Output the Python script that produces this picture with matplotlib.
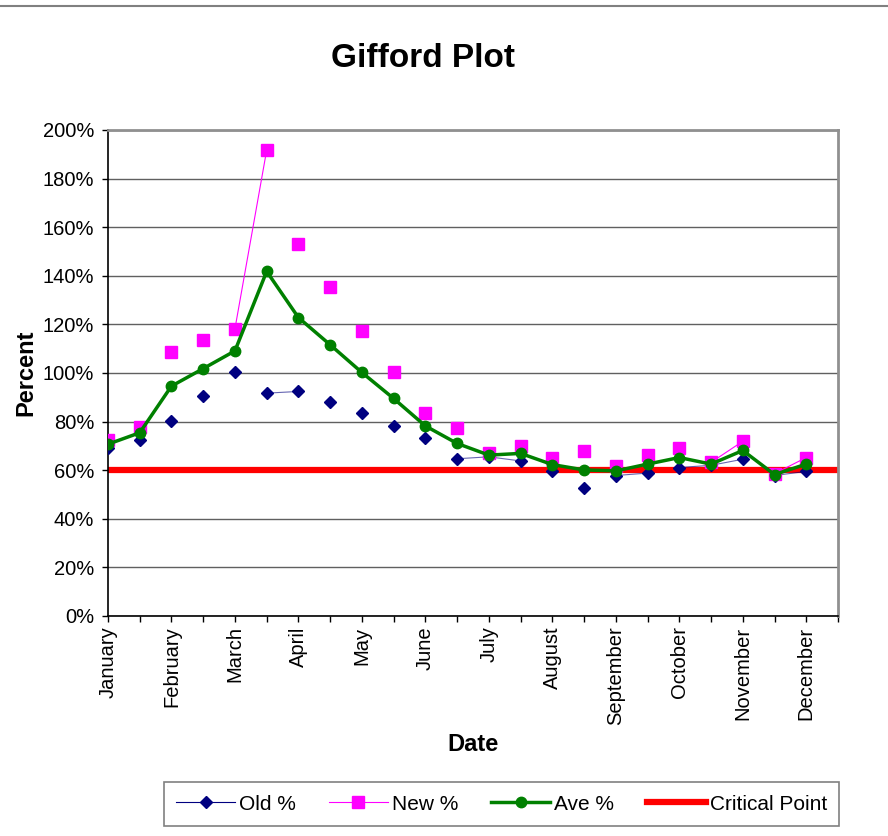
import matplotlib
matplotlib.use("Agg")
import matplotlib.pyplot as plt
from matplotlib.lines import Line2D
from matplotlib.ticker import FuncFormatter
import numpy as np

plt.rcParams['font.family'] = ['Liberation Sans', 'DejaVu Sans']

# half-month categories, month name on every other one
months = ['January', 'February', 'March', 'April', 'May', 'June', 'July',
          'August', 'September', 'October', 'November', 'December']
n_cat = 24

old_pct = [69.1, 72.5, 80.4, 90.5, 100.5, 91.7, 92.4, 88.0, 83.5, 78.2,
           73.2, 64.7, 65.5, 63.8, 59.5, 52.7, 57.8, 58.8, 61.1, 62.0,
           64.5, 57.8, 59.5]
new_pct = [72.3, 77.8, 108.8, 113.5, 118.2, 191.7, 153.0, 135.2, 117.2, 100.3,
           83.5, 77.4, 67.0, 70.0, 64.9, 67.7, 61.8, 66.2, 69.3, 63.2,
           71.9, 58.6, 65.2]
ave_pct = [70.7, 75.4, 94.6, 101.8, 109.1, 141.8, 122.8, 111.6, 100.2, 89.5,
           78.2, 71.0, 66.2, 66.9, 62.3, 60.1, 59.7, 62.5, 65.2, 62.5,
           68.1, 58.2, 62.5]
critical = 60

# only some neighbouring points of Old/New are joined in the original sheet
old_links = [(5, 6), (11, 12), (12, 13), (16, 17), (18, 19), (19, 20), (21, 22)]
new_links = [(4, 5), (19, 20), (21, 22)]


def linked(vals, links):
    xs, ys = [], []
    for a, b in links:
        xs += [a, b, np.nan]
        ys += [vals[a], vals[b], np.nan]
    return xs, ys


x = np.arange(len(ave_pct))

fig = plt.figure(figsize=(8.88, 8.36), dpi=100)
ax = fig.add_axes([0.1216, 0.2632, 0.8221, 0.5813])

ax.axhline(critical, color='#ff0000', lw=4.5, zorder=2)

ox, oy = linked(old_pct, old_links)
ax.plot(ox, oy, color='#000080', lw=0.8, alpha=0.6, zorder=3)
nx, ny = linked(new_pct, new_links)
ax.plot(nx, ny, color='#ff00ff', lw=0.8, zorder=3)

ax.plot(x, old_pct, ls='none', marker='D', ms=6, color='#000080', zorder=4)
ax.plot(x, new_pct, ls='none', marker='s', ms=8, color='#ff00ff', zorder=4)
ax.plot(x, ave_pct, color='#008000', lw=2.5, marker='o', ms=7.5, zorder=5)

ax.set_xlim(0, n_cat - 1)
ax.set_ylim(0, 200)
ax.set_yticks(np.arange(0, 201, 20))
ax.yaxis.set_major_formatter(FuncFormatter(lambda v, p: f'{v:.0f}%'))
ax.set_xticks(np.arange(n_cat))
ax.set_xticklabels([months[i // 2] if i % 2 == 0 else '' for i in range(n_cat)],
                   rotation=90)
ax.tick_params(axis='both', direction='out', length=4, width=1, labelsize=14.5)
ax.tick_params(axis='y', pad=6)

ax.grid(axis='y', color='#606060', lw=1)
ax.set_axisbelow(True)
for s in ['top', 'right']:
    ax.spines[s].set_color('#909090')
    ax.spines[s].set_linewidth(2)
ax.spines['left'].set_linewidth(1.2)
ax.spines['bottom'].set_linewidth(1.2)

fig.text(0.476, 0.930, 'Gifford Plot', fontsize=24, fontweight='bold',
         ha='center', va='center')
ax.set_ylabel('Percent', fontsize=17, fontweight='bold', labelpad=4)
ax.set_xlabel('Date', fontsize=17, fontweight='bold', labelpad=6)

handles = [
    Line2D([], [], color='#000080', lw=0.8, marker='D', ms=6),
    Line2D([], [], color='#ff00ff', lw=0.8, marker='s', ms=8),
    Line2D([], [], color='#008000', lw=2.5, marker='o', ms=7.5),
    Line2D([], [], color='#ff0000', lw=4.5),
]
leg = fig.legend(handles, ['Old %', 'New %', 'Ave %', 'Critical Point'],
                 loc='center', bbox_to_anchor=(0.565, 0.038), ncol=4,
                 fontsize=15, frameon=True, fancybox=False, handlelength=2.8,
                 columnspacing=1.6, handletextpad=0.2, borderpad=0.6)
leg.get_frame().set_edgecolor('#606060')
leg.get_frame().set_linewidth(1.2)

fig.add_artist(Line2D([0, 1], [0.9928, 0.9928], color='#808080', lw=1.5,
                      transform=fig.transFigure))

fig.savefig('out.png', dpi=100)
